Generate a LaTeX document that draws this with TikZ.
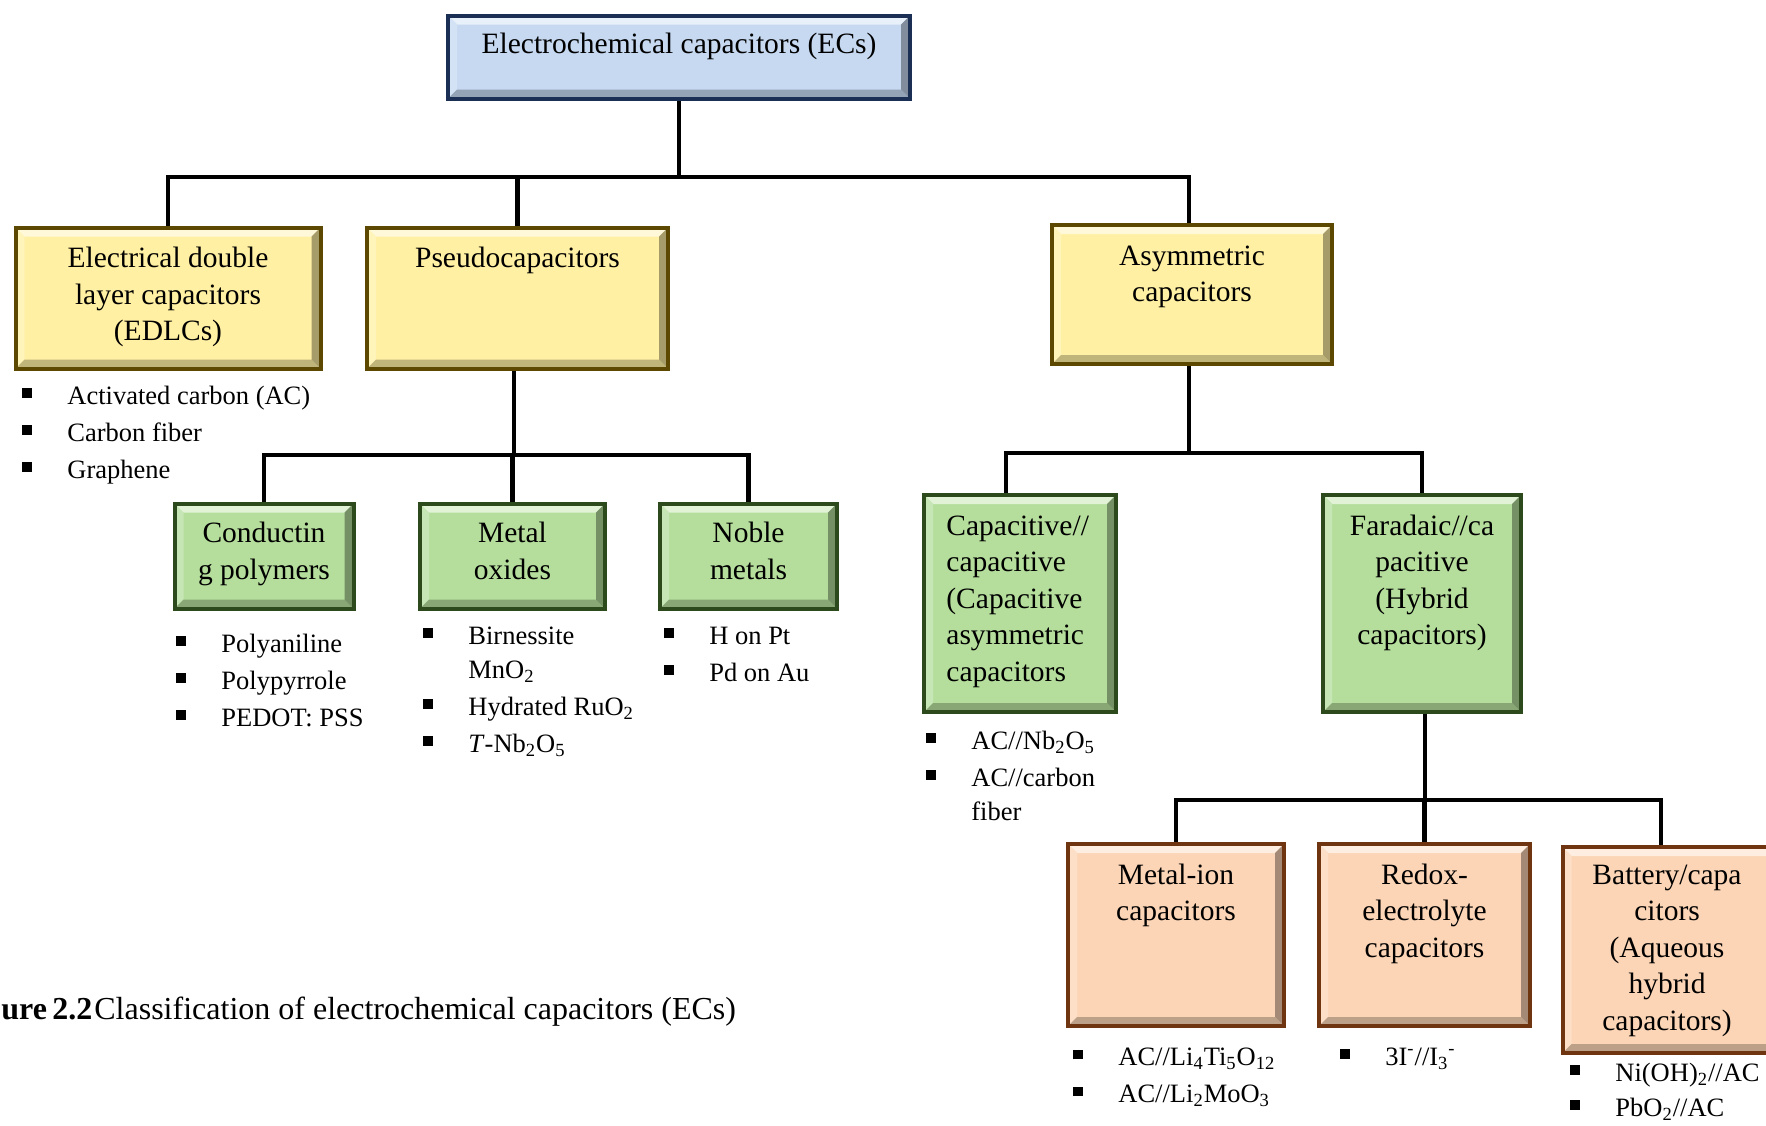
\documentclass[tikz,border=0pt]{standalone}
\usepackage{fontspec}
\setmainfont{Liberation Serif}
\usetikzlibrary{calc}
\definecolor{bluef}{HTML}{C6D9F1}
\definecolor{blueb}{HTML}{1B2F55}
\definecolor{yelf}{HTML}{FFF0A3}
\definecolor{yelb}{HTML}{5C4800}
\definecolor{grnf}{HTML}{B5DE9C}
\definecolor{grnb}{HTML}{2C4A1C}
\definecolor{orf}{HTML}{FCD5B6}
\definecolor{orb}{HTML}{6E3510}
\pgfdeclarelayer{bg}\pgfsetlayers{bg,main}
\newcommand\sqb{\rule[0.23em]{0.35em}{0.36em}}
\newcommand\bl{\makebox[22.5pt][l]{\sqb}}
\newcommand\ind{\hspace*{22.5pt}}
\newcommand\ctab[1]{\begin{tabular}[t]{@{}c@{}}#1\end{tabular}}
\newcommand\ltab[1]{\begin{tabular}[t]{@{}l@{}}#1\end{tabular}}
\tikzset{
  bevbox/.style n args={2}{draw=#2, line width=2pt, fill=#1, inner sep=0pt,
    path picture={
      \fill[#1!40!white] (path picture bounding box.north west) -- (path picture bounding box.north east)
        -- ([shift={(-4.5pt,-4.5pt)}]path picture bounding box.north east)
        -- ([shift={(4.5pt,-4.5pt)}]path picture bounding box.north west) -- cycle;
      \fill[#1!75!white] (path picture bounding box.north west) -- (path picture bounding box.south west)
        -- ([shift={(4.5pt,4.5pt)}]path picture bounding box.south west)
        -- ([shift={(4.5pt,-4.5pt)}]path picture bounding box.north west) -- cycle;
      \fill[#1!75!black] (path picture bounding box.south west) -- (path picture bounding box.south east)
        -- ([shift={(-4.5pt,4.5pt)}]path picture bounding box.south east)
        -- ([shift={(4.5pt,4.5pt)}]path picture bounding box.south west) -- cycle;
      \fill[#1!65!black] (path picture bounding box.north east) -- (path picture bounding box.south east)
        -- ([shift={(-4.5pt,4.5pt)}]path picture bounding box.south east)
        -- ([shift={(-4.5pt,-4.5pt)}]path picture bounding box.north east) -- cycle;
    }},
  btxt/.style={anchor=base, inner sep=0pt, font=\fontsize{14.75}{18.3}\selectfont},
  lst/.style={anchor=base west, inner sep=0pt, font=\fontsize{13.25}{18.5}\selectfont},
  conn/.style={line width=2.2pt, black, line join=miter},
}
\begin{document}
\begin{tikzpicture}[x=0.5pt,y=-0.5pt]
\useasboundingbox (0,0) rectangle (1766,1125);
\begin{pgfonlayer}{bg}
\fill[white] (0,0) rectangle (1766,1125);
\end{pgfonlayer}
\clip (0,0) rectangle (1766,1125);

% boxes
\node[bevbox={bluef}{blueb}, minimum width=231pt, minimum height=41.5pt] (top) at (679,57) {};
\node[bevbox={yelf}{yelb}, minimum width=152.5pt, minimum height=70.5pt] (edlc) at (168,298) {};
\node[bevbox={yelf}{yelb}, minimum width=150.5pt, minimum height=70.5pt] (pseudo) at (517.5,298) {};
\node[bevbox={yelf}{yelb}, minimum width=140pt, minimum height=69.5pt] (asym) at (1192,294.5) {};
\node[bevbox={grnf}{grnb}, minimum width=89.5pt, minimum height=52.5pt] (cond) at (264,556) {};
\node[bevbox={grnf}{grnb}, minimum width=92.5pt, minimum height=52.5pt] (metal) at (512.5,556) {};
\node[bevbox={grnf}{grnb}, minimum width=88.5pt, minimum height=52.5pt] (noble) at (748.5,556) {};
\node[bevbox={grnf}{grnb}, minimum width=96pt, minimum height=108.5pt] (capac) at (1020,603.5) {};
\node[bevbox={grnf}{grnb}, minimum width=99pt, minimum height=108.5pt] (farad) at (1422,603.5) {};
\node[bevbox={orf}{orb}, minimum width=108pt, minimum height=91pt] (mion) at (1176,935) {};
\node[bevbox={orf}{orb}, minimum width=105.5pt, minimum height=91pt] (redox) at (1424.5,935) {};
\node[bevbox={orf}{orb}, minimum width=107.5pt, minimum height=103pt] (batt) at (1670,950) {};

% box texts
\node[btxt] (top-t) at ([yshift=-20pt]top.north) {\ctab{Electrochemical capacitors (ECs)}};
\node[btxt] (edlc-t) at ([yshift=-21pt]edlc.north) {\ctab{Electrical double\\layer capacitors\\(EDLCs)}};
\node[btxt] (pseudo-t) at ([yshift=-21pt]pseudo.north) {\ctab{Pseudocapacitors}};
\node[btxt] (asym-t) at ([yshift=-21pt]asym.north) {\ctab{Asymmetric\\capacitors}};
\node[btxt] (cond-t) at ([yshift=-20.5pt]cond.north) {\ctab{Conductin\\g polymers}};
\node[btxt] (metal-t) at ([yshift=-20.5pt]metal.north) {\ctab{Metal\\oxides}};
\node[btxt] (noble-t) at ([yshift=-20.5pt]noble.north) {\ctab{Noble\\metals}};
\node[btxt, anchor=base west] (capac-t) at ([xshift=12pt,yshift=-21pt]capac.north west) {\ltab{Capacitive//\\capacitive\\(Capacitive\\asymmetric\\capacitors}};
\node[btxt] (farad-t) at ([yshift=-21pt]farad.north) {\ctab{Faradaic//ca\\pacitive\\(Hybrid\\capacitors)}};
\node[btxt] (mion-t) at ([yshift=-21pt]mion.north) {\ctab{Metal-ion\\capacitors}};
\node[btxt] (redox-t) at ([yshift=-21pt]redox.north) {\ctab{Redox-\\electrolyte\\capacitors}};
\node[btxt] (batt-t) at ([xshift=-1.5pt,yshift=-19.5pt]batt.north) {\ctab{Battery/capa\\citors\\(Aqueous\\hybrid\\capacitors)}};

% lists
\node[lst] (l-edlc) at (22,404) {\ltab{\bl Activated carbon (AC)\\ \bl Carbon fiber\\ \bl Graphene}};
\node[lst] (l-cond) at (176,652) {\ltab{\bl Polyaniline\\ \bl Polypyrrole\\ \bl PEDOT: PSS}};
\node[lst] (l-metal) at (423,644) {\ltab{\bl Birnessite\\[-1.5pt] \ind MnO\textsubscript{2}\\ \bl Hydrated RuO\textsubscript{2}\\ \bl \textit{T}-Nb\textsubscript{2}O\textsubscript{5}}};
\node[lst] (l-noble) at (664,644) {\ltab{\bl H on Pt\\ \bl Pd on Au}};
\node[lst] (l-capac) at (926,749) {\ltab{\bl AC//Nb\textsubscript{2}O\textsubscript{5}\\ \bl AC//carbon\\[-1.5pt] \ind fiber}};
\node[lst] (l-mion) at (1073,1065.5) {\ltab{\bl AC//Li\textsubscript{4}Ti\textsubscript{5}O\textsubscript{12}\\ \bl AC//Li\textsubscript{2}MoO\textsubscript{3}}};
\node[lst] (l-redox) at (1340,1065) {\ltab{\bl 3I\textsuperscript{-}//I\textsubscript{3}\textsuperscript{-}}};
\node[lst] (l-batt) at (1570,1081) {\ltab{\bl Ni(OH)\textsubscript{2}//AC\\[-1pt] \bl PbO\textsubscript{2}//AC}};

% caption
\node[anchor=base west, inner sep=0pt, font=\fontsize{16}{20}\selectfont] (cap) at (1,1019) {\makebox[46.5pt][l]{\textbf{ure\,2.2}}Classification of electrochemical capacitors (ECs)};

% connectors
\begin{pgfonlayer}{bg}
\coordinate (j1) at (679,177);
\draw[conn] (top.south) -- (j1);
\draw[conn] (edlc.north) |- (j1) -| ([xshift=-1.5pt]asym.north);
\draw[conn] (pseudo.north) -- (pseudo.north |- j1);
\coordinate (j2) at (514,455);
\draw[conn] (j2 |- pseudo.south) -- (j2);
\draw[conn] (cond.north) |- (j2) -| (noble.north);
\draw[conn] (metal.north) -- (metal.north |- j2);
\coordinate (j3) at (1189,453);
\draw[conn] (j3 |- asym.south) -- (j3);
\draw[conn] ([xshift=-7pt]capac.north) |- (j3) -| (farad.north);
\coordinate (j4) at (1425,800);
\draw[conn] (j4 |- farad.south) -- (j4);
\draw[conn] (mion.north) |- (j4) -| ([xshift=-4.5pt]batt.north);
\draw[conn] (redox.north) -- (redox.north |- j4);
\end{pgfonlayer}
\end{tikzpicture}
\end{document}
